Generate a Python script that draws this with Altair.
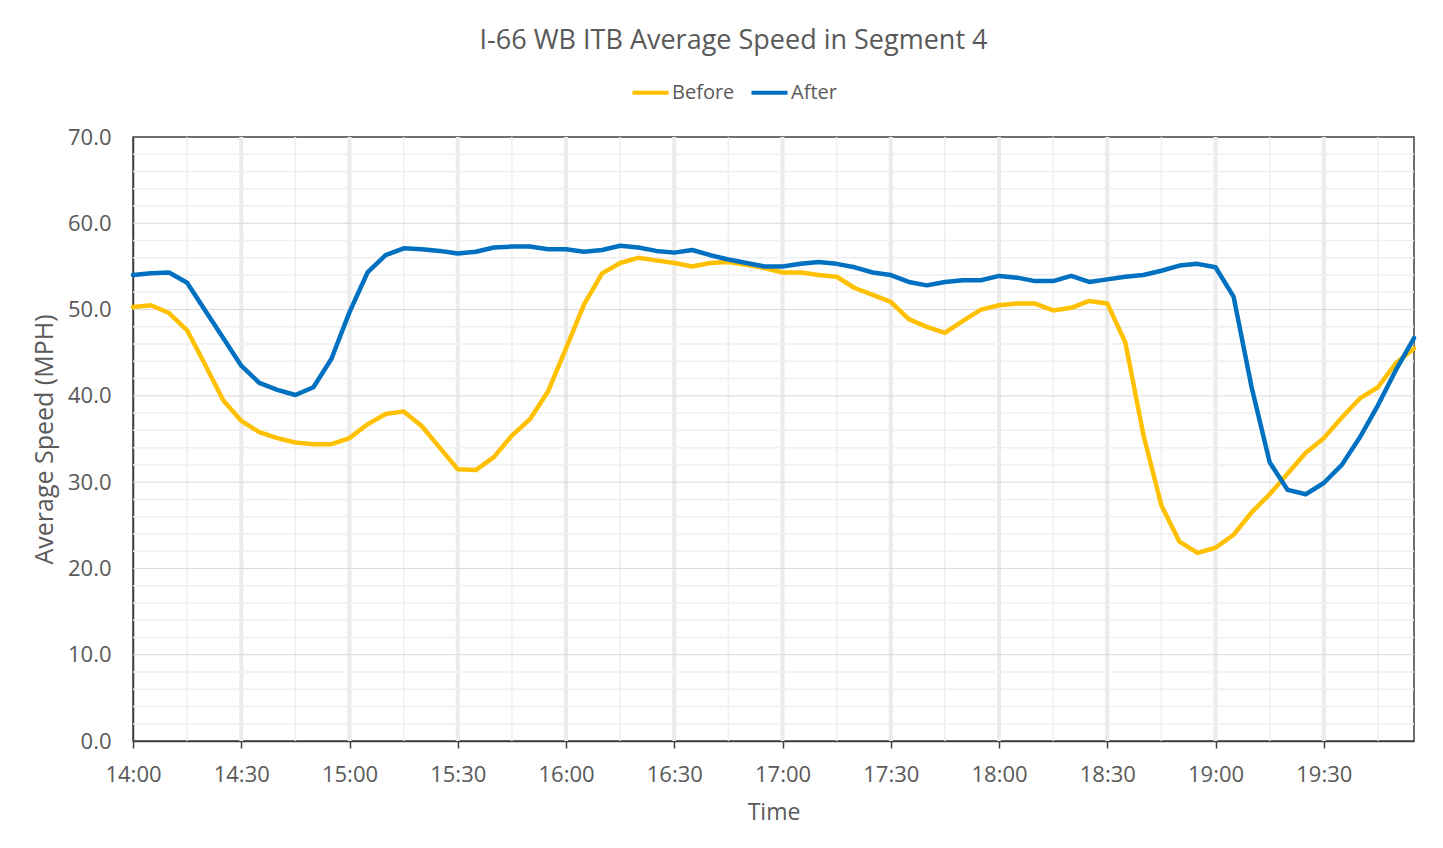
import altair as alt
import pandas as pd

times = ["14:00", "14:05", "14:10", "14:15", "14:20", "14:25", "14:30", "14:35", "14:40", "14:45", "14:50", "14:55",
         "15:00", "15:05", "15:10", "15:15", "15:20", "15:25", "15:30", "15:35", "15:40", "15:45", "15:50", "15:55",
         "16:00", "16:05", "16:10", "16:15", "16:20", "16:25", "16:30", "16:35", "16:40", "16:45", "16:50", "16:55",
         "17:00", "17:05", "17:10", "17:15", "17:20", "17:25", "17:30", "17:35", "17:40", "17:45", "17:50", "17:55",
         "18:00", "18:05", "18:10", "18:15", "18:20", "18:25", "18:30", "18:35", "18:40", "18:45", "18:50", "18:55",
         "19:00", "19:05", "19:10", "19:15", "19:20", "19:25", "19:30", "19:35", "19:40", "19:45", "19:50", "19:55"]

before = [50.3, 50.5, 49.6, 47.6, 43.6, 39.5, 37.1, 35.8, 35.1, 34.6, 34.4, 34.4,
          35.1, 36.7, 37.9, 38.2, 36.5, 34.0, 31.5, 31.4, 32.9, 35.4, 37.3, 40.5,
          45.5, 50.6, 54.2, 55.4, 56.0, 55.7, 55.4, 55.0, 55.4, 55.5, 55.2, 54.8,
          54.3, 54.3, 54.0, 53.8, 52.5, 51.7, 50.9, 48.9, 48.0, 47.3, 48.7, 50.0,
          50.5, 50.7, 50.7, 49.9, 50.2, 51.0, 50.7, 46.2, 35.5, 27.3, 23.1, 21.8,
          22.4, 23.9, 26.5, 28.6, 31.0, 33.4, 35.1, 37.5, 39.7, 41.0, 43.8, 45.5]

after = [54.0, 54.2, 54.3, 53.1, 49.9, 46.7, 43.5, 41.5, 40.7, 40.1, 41.0, 44.3,
         49.7, 54.3, 56.3, 57.1, 57.0, 56.8, 56.5, 56.7, 57.2, 57.3, 57.3, 57.0,
         57.0, 56.7, 56.9, 57.4, 57.2, 56.8, 56.6, 56.9, 56.3, 55.8, 55.4, 55.0,
         55.0, 55.3, 55.5, 55.3, 54.9, 54.3, 54.0, 53.2, 52.8, 53.2, 53.4, 53.4,
         53.9, 53.7, 53.3, 53.3, 53.9, 53.2, 53.5, 53.8, 54.0, 54.5, 55.1, 55.3,
         54.9, 51.5, 41.0, 32.3, 29.1, 28.6, 29.9, 32.0, 35.2, 38.9, 43.0, 46.7]

series_names = ["Before", "After"]
series_colors = ["#FFC000", "#0070C0"]

x_tick_labels = ["14:00", "14:30", "15:00", "15:30", "16:00", "16:30",
                 "17:00", "17:30", "18:00", "18:30", "19:00", "19:30"]
y_ticks = [0, 10, 20, 30, 40, 50, 60, 70]


def to_min(t):
    h, m = t.split(":")
    return int(h) * 60 + int(m) - 14 * 60


mins = [to_min(t) for t in times]
x_ticks = [to_min(t) for t in x_tick_labels]
x_end = mins[-1]

df = pd.DataFrame({
    "minute": mins * 2,
    "time": times * 2,
    "speed": before + after,
    "series": ["Before"] * len(times) + ["After"] * len(times),
})

xscale = alt.Scale(domain=[0, x_end], nice=False, zero=False)
yscale = alt.Scale(domain=[0, 70], nice=False)

label_expr = "[" + ",".join("'" + s + "'" for s in x_tick_labels) + "][round(datum.value/30)]"

xaxis = alt.Axis(title="Time", values=x_ticks, labelExpr=label_expr,
                 grid=False, ticks=True, tickSize=7, tickColor="#404040",
                 tickWidth=1.5, labelPadding=16, titlePadding=16, labelFlush=False,
                 labelFontSize=22, titleFontSize=23, labelColor="#595959",
                 titleColor="#595959", domainColor="#404040", domainWidth=1.5,
                 labelFont="Open Sans", titleFont="Open Sans", titleFontWeight="normal")
yaxis = alt.Axis(title="Average Speed (MPH)", values=y_ticks, format=".1f",
                 grid=False, ticks=False, labelPadding=22, titlePadding=10, labelFlush=False,
                 labelFontSize=22, titleFontSize=25, labelColor="#595959",
                 titleColor="#595959", domainColor="#404040", domainWidth=1.5,
                 labelFont="Open Sans", titleFont="Open Sans", titleFontWeight="normal")

vmajor = pd.DataFrame({"minute": [v for v in x_ticks if v > 0]})
vminor = pd.DataFrame({"minute": [v + 15 for v in x_ticks if v + 15 < x_end]})
hmajor = pd.DataFrame({"speed": [v for v in y_ticks if 0 < v < 70]})
hminor = pd.DataFrame({"speed": [v + d for v in y_ticks[:-1] for d in (2, 4, 6, 8)]})

g_vminor = alt.Chart(vminor).mark_rule(color="#efefef", strokeWidth=1.5).encode(
    x=alt.X("minute:Q", scale=xscale, axis=xaxis))
g_vmajor = alt.Chart(vmajor).mark_rule(color="#ebebeb", strokeWidth=4).encode(
    x=alt.X("minute:Q", scale=xscale, axis=xaxis))
g_hminor = alt.Chart(hminor).mark_rule(color="#efefef", strokeWidth=1.5).encode(
    y=alt.Y("speed:Q", scale=yscale, axis=yaxis))
g_hmajor = alt.Chart(hmajor).mark_rule(color="#d9d9d9", strokeWidth=1).encode(
    y=alt.Y("speed:Q", scale=yscale, axis=yaxis))

lines = alt.Chart(df).mark_line(strokeWidth=4.5, strokeJoin="round", strokeCap="round").encode(
    x=alt.X("minute:Q", scale=xscale, axis=xaxis),
    y=alt.Y("speed:Q", scale=yscale, axis=yaxis),
    color=alt.Color("series:N", scale=alt.Scale(domain=series_names, range=series_colors),
                    sort=series_names,
                    legend=alt.Legend(title=None, orient="none", legendX=497, legendY=-65,
                                      direction="horizontal", symbolType="stroke",
                                      symbolStrokeWidth=4, symbolSize=1300,
                                      labelFontSize=20, labelColor="#595959", labelFont="Open Sans",
                                      labelOffset=1, columnPadding=8)),
    order=alt.Order("minute:Q"),
)

chart = alt.layer(g_vminor, g_vmajor, g_hminor, g_hmajor, lines).properties(
    width=1281, height=604,
    title=alt.TitleParams("I-66 WB ITB Average Speed in Segment 4", fontSize=27,
                          font="Open Sans", fontWeight="normal", color="#595959",
                          anchor="middle", frame="group", dx=-40, offset=17),
    padding={"left": 125, "top": 129, "right": 20, "bottom": 90},
    autosize=alt.AutoSizeParams(type="none"),
    background="white",
).configure_view(stroke="#404040", strokeWidth=1.5)

chart.save("out.html", embed_options={"renderer": "svg", "actions": False})
